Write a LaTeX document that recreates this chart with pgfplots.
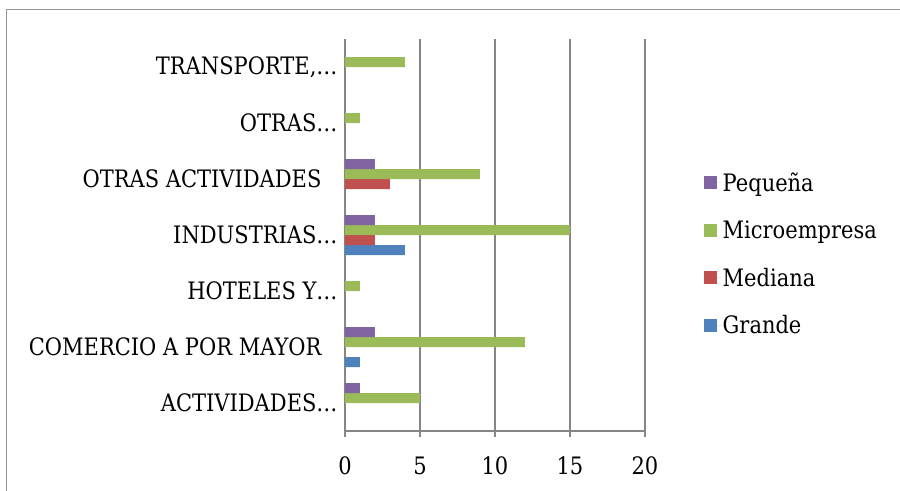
\documentclass[border=0pt]{standalone}
\usepackage{fontspec}
\setmainfont{DejaVu Serif}[FakeStretch=0.875]
\usepackage{pgfplots}
\pgfplotsset{compat=1.18}
\definecolor{cGrande}{RGB}{79,129,189}
\definecolor{cMediana}{RGB}{192,80,77}
\definecolor{cMicro}{RGB}{155,187,89}
\definecolor{cPeq}{RGB}{128,100,162}
\definecolor{cGrid}{RGB}{134,134,134}
\definecolor{cFrame}{RGB}{150,150,150}
\begin{document}
\begin{tikzpicture}
\useasboundingbox (-345bp,-60bp) rectangle (555bp,431bp);
\draw[cFrame, line width=1.6bp] (-338.5bp,-62bp) -- (-338.5bp,421.5bp) -- (557bp,421.5bp);
\begin{axis}[
  scale only axis,
  width=300bp, height=392bp,
  xmin=0, xmax=20,
  ymin=-0.5, ymax=6.5,
  axis x line=bottom, axis y line=left,
  axis line style={-, cGrid, line width=1.5bp},
  xtick={0,5,10,15,20},
  xmajorgrids,
  major grid style={cGrid, line width=1.5bp},
  tick align=outside,
  major tick length=6bp,
  every tick/.style={cGrid, line width=1.5bp},
  ytick={0,...,6},
  yticklabels={{ACTIVIDADES…}, {COMERCIO A POR MAYOR\kern16bp}, {HOTELES Y…}, {INDUSTRIAS…}, {OTRAS ACTIVIDADES\kern16bp}, {OTRAS…}, {TRANSPORTE,…}},
  major y tick style={draw=none},
  extra y ticks={-0.5,0.5,1.5,2.5,3.5,4.5,5.5,6.5},
  extra y tick labels={},
  extra y tick style={major tick length=6bp, tick style={draw=cGrid, line width=1.5bp}},
  yticklabel style={font=\fontsize{24bp}{28bp}\selectfont, xshift=2bp},
  xticklabel style={font=\fontsize{24bp}{28bp}\selectfont, yshift=-16bp},
  /pgf/number format/assume math mode=true,
  xbar, bar width=10bp,
  reverse legend,
  legend style={draw=none, at={(1.185,0.4515)}, anchor=west,
    font=\fontsize{24bp}{28bp}\selectfont, row sep=26bp,
    nodes={inner sep=1bp}},
  legend cell align=left,
  legend image code/.code={\fill[#1] (0bp,-6.5bp) rectangle (13bp,6.5bp); \path (0bp,0bp) -- (18bp,0bp);},
]
\addplot[fill=cGrande, draw=none, bar shift=-15bp] coordinates {(0,0) (1,1) (0,2) (4,3) (0,4) (0,5) (0,6)};
\addlegendentry{Grande}
\addplot[fill=cMediana, draw=none, bar shift=-5bp] coordinates {(0,0) (0,1) (0,2) (2,3) (3,4) (0,5) (0,6)};
\addlegendentry{Mediana}
\addplot[fill=cMicro, draw=none, bar shift=5bp] coordinates {(5,0) (12,1) (1,2) (15,3) (9,4) (1,5) (4,6)};
\addlegendentry{Microempresa}
\addplot[fill=cPeq, draw=none, bar shift=15bp] coordinates {(1,0) (2,1) (0,2) (2,3) (2,4) (0,5) (0,6)};
\addlegendentry{Pequeña}
\end{axis}
\end{tikzpicture}
\end{document}
